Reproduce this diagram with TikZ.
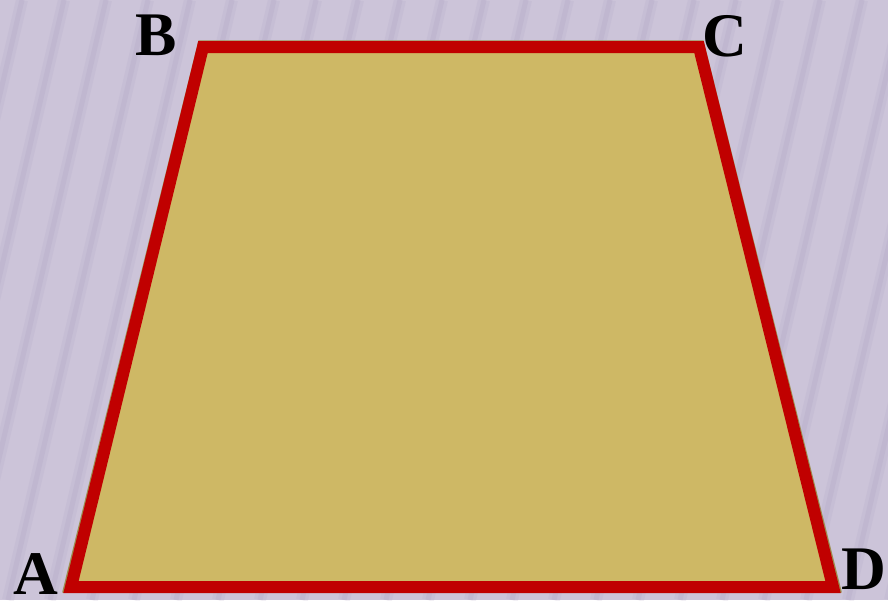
\documentclass[tikz,border=0pt]{standalone}
\usepackage{fontspec}
\setmainfont{Liberation Serif}
\definecolor{bgcol}{HTML}{CCC4D9}
\definecolor{stripecol}{HTML}{A89CBD}
\definecolor{tancol}{HTML}{CEB865}
\definecolor{rimcol}{HTML}{9C8E4E}
\definecolor{redcol}{HTML}{C00000}
\tikzset{
  stripe/.style={draw=stripecol, line width=12pt, opacity=0.14},
  stripecore/.style={draw=stripecol, line width=5pt, opacity=0.2},
  trapshape/.style={fill=tancol, draw=rimcol, line width=1.5pt, line join=round},
  rededge/.style={draw=redcol, line width=12pt, line join=miter},
  lab/.style={inner sep=0pt, font=\fontsize{62}{62}\selectfont\bfseries, text=black}
}
\begin{document}
\begin{tikzpicture}[x=1pt,y=-1pt]
\useasboundingbox (0,0) rectangle (888,600);
\fill[bgcol] (0,0) rectangle (888,600);
\begin{scope}
\clip (0,0) rectangle (888,600);
\foreach \x in {-160,-118,...,900} {
  \draw[stripe] (\x,600) -- (\x+140,0);
  \draw[stripecore] (\x,600) -- (\x+140,0);
}
\end{scope}
% outer tan shape
\coordinate (tA) at (63,592);
\coordinate (tB) at (199,41);
\coordinate (tC) at (703,41);
\coordinate (tD) at (841,592);
\path[trapshape] (tA) -- (tB) -- (tC) -- (tD) -- cycle;
% red edges
\coordinate (A) at (71,587);
\coordinate (B) at (203,47);
\coordinate (C) at (699,47);
\coordinate (D) at (833,587);
\draw[rededge] (A) -- (B) -- (C) -- (D) -- cycle;
% labels
\node[lab] (lA) at (36,574) {A};
\node[lab] (lB) at (156,35) {B};
\node[lab] (lC) at (725,36) {C};
\node[lab] (lD) at (864,569) {D};
\end{tikzpicture}
\end{document}
